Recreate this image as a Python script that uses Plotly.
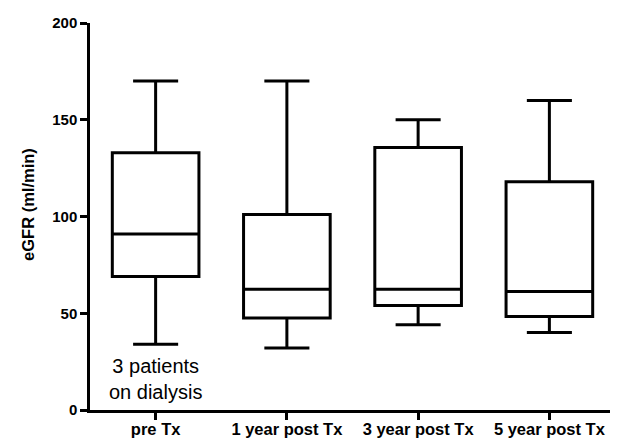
import plotly.graph_objects as go

categories = ["pre Tx", "1 year post Tx", "3 year post Tx", "5 year post Tx"]
lower_whisker = [34, 32, 44, 40]
q1_values = [69, 47.5, 54, 48.3]
median_values = [91, 62.4, 62.4, 61.2]
q3_values = [133, 101, 135.7, 118]
upper_whisker = [170, 170, 150, 160]
y_ticks = [0, 50, 100, 150, 200]
y_title = "eGFR (ml/min)"

FONT = "Liberation Sans, Arial"

fig = go.Figure()
fig.add_trace(go.Box(
    x=categories,
    q1=q1_values,
    median=median_values,
    q3=q3_values,
    lowerfence=lower_whisker,
    upperfence=upper_whisker,
    boxpoints=False,
    fillcolor="white",
    line=dict(color="black", width=3),
    width=0.66,
    whiskerwidth=0.52,
    showlegend=False,
    hoverinfo="skip",
))

fig.add_annotation(
    x=0, y=16, xref="x", yref="y",
    text="3 patients<br>on dialysis",
    showarrow=False,
    font=dict(family=FONT, size=20, color="black"),
    align="center",
)

fig.add_annotation(
    x=-0.118, y=0.53, xref="paper", yref="paper",
    xanchor="center", yanchor="middle",
    text=y_title, textangle=-90, showarrow=False,
    font=dict(family=FONT, size=16.5, color="black", weight="bold"),
)

# page body adds an 8px offset, so the figure is sized to fit the window
fig.update_layout(
    width=610, height=431,
    margin=dict(l=82, r=3, t=15, b=29),
    paper_bgcolor="white", plot_bgcolor="white",
    font=dict(family=FONT, color="black"),
)
fig.update_xaxes(
    type="category", range=[-0.5, 3.5], automargin=False,
    showline=True, linecolor="black", linewidth=2.5,
    ticks="outside", ticklen=7, tickwidth=2.5, tickcolor="black",
    ticklabelstandoff=-5,
    showgrid=False, zeroline=False,
    tickfont=dict(family=FONT, size=16.5, color="black", weight="bold"),
)
fig.update_yaxes(
    range=[0, 200], tickvals=y_ticks, automargin=False,
    showline=True, linecolor="black", linewidth=2.5,
    ticks="outside", ticklen=7, tickwidth=2.5, tickcolor="black",
    showgrid=False, zeroline=False,
    tickfont=dict(family=FONT, size=15, color="black", weight="bold"),
)

fig.write_html("out.html")
